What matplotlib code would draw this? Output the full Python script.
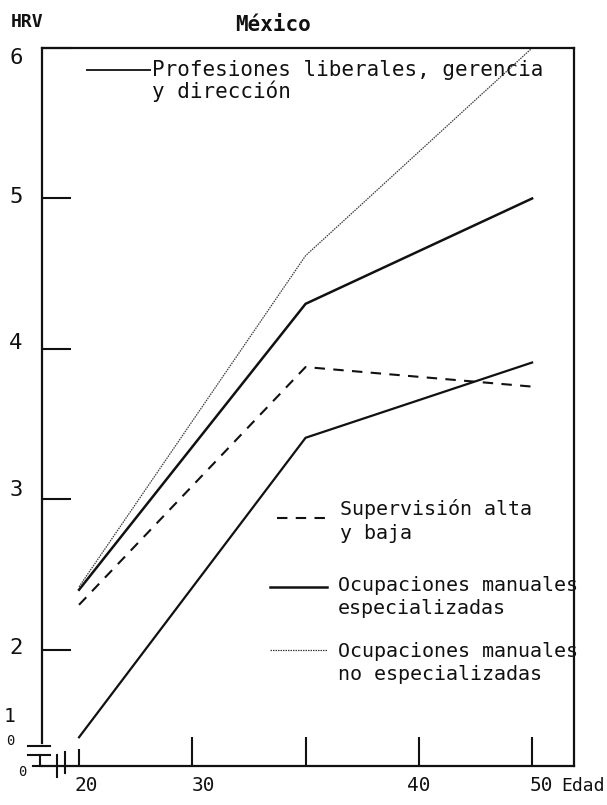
import numpy as np
import matplotlib
matplotlib.use("Agg")
import matplotlib.pyplot as plt
import matplotlib.transforms as mtransforms
from matplotlib.lines import Line2D

plt.rcParams['font.family'] = ['DejaVu Sans Mono', 'DejaVu Sans']

# ---- data -------------------------------------------------------------
edades = [20, 35, 50]
profesiones = [2.42, 4.62, 6.0]
supervision = [2.3, 3.88, 3.75]
especializadas = [2.4, 4.3, 5.0]
no_especializadas = [1.42, 3.41, 3.91]

tick_edades = [20, 30, 35, 40, 50]
tick_textos = ['20', '30', '', '40', '50']
y_ticks = [2, 3, 4, 5, 6]
y_textos = ['2', '3', '4', '5', '6']

titulo = 'México'
eje_y = 'HRV'
eje_x = 'Edad'
leyenda = [
    'Profesiones liberales, gerencia\ny dirección',
    'Supervisión alta\ny baja',
    'Ocupaciones manuales\nespecializadas',
    'Ocupaciones manuales\nno especializadas',
]

# ---- age axis: equally spaced ticks (piecewise linear) ---------------
_pos = np.arange(len(tick_edades), dtype=float)


def _fwd(a):
    a = np.asarray(a, dtype=float)
    p = np.interp(a, tick_edades, _pos)
    p = np.where(a < tick_edades[0], (a - tick_edades[0]) / 10.0, p)
    p = np.where(a > tick_edades[-1], _pos[-1] + (a - tick_edades[-1]) / 10.0, p)
    return p


def _inv(p):
    p = np.asarray(p, dtype=float)
    a = np.interp(p, _pos, tick_edades)
    a = np.where(p < 0, tick_edades[0] + p * 10.0, a)
    a = np.where(p > _pos[-1], tick_edades[-1] + (p - _pos[-1]) * 10.0, a)
    return a


W, H = 607, 805
fig = plt.figure(figsize=(W / 100, H / 100), dpi=100)
L, R, T, B = 42, 574, 48, 766
ax = fig.add_axes([L / W, 1 - B / H, (R - L) / W, (B - T) / H])

ax.set_xscale('function', functions=(_fwd, _inv))
ax.set_xlim(16.73, 53.7)
ax.set_ylim(1.229, 6.0)

ink = '#111111'
ax.plot(edades, profesiones, color='#3a3a3a', lw=0.9, ls=(0, (1.2, 0.8)))
ax.plot(edades, supervision, color=ink, lw=1.5, ls=(0, (5, 4)))
ax.plot(edades, especializadas, color=ink, lw=1.8)
ax.plot(edades, no_especializadas, color=ink, lw=1.6)

# ---- axes / ticks -----------------------------------------------------
for s in ax.spines.values():
    s.set_color(ink)
    s.set_linewidth(1.6)
ax.spines['left'].set_bounds(1.38, 6.0)

ax.set_xticks(tick_edades)
ax.set_xticklabels(tick_textos)
ax.set_yticks(y_ticks)
ax.set_yticklabels(y_textos)
ax.xaxis.set_minor_locator(matplotlib.ticker.NullLocator())
ax.tick_params(axis='y', direction='in', length=21, width=1.5, pad=14,
               labelsize=16, colors=ink)
ax.tick_params(axis='x', direction='in', length=21, width=1.5, pad=7,
               labelsize=14, colors=ink)
ax.xaxis.get_major_ticks()[0].tick1line.set_markersize(12)

# typed labels sit a little off their ticks
dx = [7, 11, 0, 0, 9]
for lab, d in zip(ax.get_xticklabels(), dx):
    lab.set_transform(lab.get_transform() +
                      mtransforms.ScaledTranslation(d / 100, 0, fig.dpi_scale_trans))
dy = [4, 11, 8, 3, -8]
for lab, d in zip(ax.get_yticklabels(), dy):
    lab.set_transform(lab.get_transform() +
                      mtransforms.ScaledTranslation(0, d / 100, fig.dpi_scale_trans))

# axis breaks at the lower-left corner
brk = dict(color=ink, lw=1.5, transform=ax.transAxes, clip_on=False)
ax.add_line(Line2D([-0.026, 0.015], [0.028, 0.028], **brk))
ax.add_line(Line2D([-0.026, 0.015], [0.0153, 0.0153], **brk))
ax.add_line(Line2D([-0.004, -0.004], [0.0153, 0.0], **brk))
ax.add_line(Line2D([-0.017, 0.0], [0.0, 0.0], **brk))
ax.add_line(Line2D([0.028, 0.028], [0.0153, -0.0153], **brk))
ax.add_line(Line2D([0.043, 0.043], [0.0195, -0.0097], **brk))

ax.text(-0.062, 0.0696, '1', transform=ax.transAxes, fontsize=14,
        ha='center', va='center', color=ink)
ax.text(-0.060, 0.0348, '0', transform=ax.transAxes, fontsize=10,
        ha='center', va='center', color=ink)
ax.text(-0.0376, -0.0084, '0', transform=ax.transAxes, fontsize=10,
        ha='center', va='center', color=ink)

# ---- titles -----------------------------------------------------------
fig.text(27 / W, 1 - 22 / H, eje_y, fontsize=13, fontweight='bold',
         ha='center', va='center', color=ink)
fig.text(273 / W, 1 - 25 / H, titulo, fontsize=15, fontweight='bold',
         ha='center', va='center', color=ink)
ax.text((561 - L) / (R - L), -(786 - B) / (B - T), eje_x,
        transform=ax.transAxes, fontsize=13, ha='left', va='center',
        color=ink)

# ---- legend (lines with labels) --------------------------------------
def px(x, y):
    return (x - L) / (R - L), (B - y) / (B - T)


estilos = [
    dict(color='#222222', lw=1.4, ls='-'),
    dict(color=ink, lw=1.5, ls=(0, (5, 4))),
    dict(color=ink, lw=1.8, ls='-'),
    dict(color='#3a3a3a', lw=0.9, ls=(0, (1.2, 0.8))),
]
lineas = [(87, 150, 70), (277, 327, 518), (270, 327, 587), (270, 327, 650)]
textos = [(152, 81, 1.05, 15), (340, 521, 1.3, 14.4),
          (338, 597, 1.25, 14.4), (338, 663, 1.3, 14.4)]

for est, (x0, x1, yl), (xt, yt, ls, fs), lab in zip(estilos, lineas, textos, leyenda):
    (ax0, ay), (ax1, _) = px(x0, yl), px(x1, yl)
    ax.add_line(Line2D([ax0, ax1], [ay, ay], transform=ax.transAxes, **est))
    tx, ty = px(xt, yt)
    ax.text(tx, ty, lab, transform=ax.transAxes, fontsize=fs,
            ha='left', va='center', linespacing=ls, color=ink)

fig.savefig('out.png', dpi=100, facecolor='white')
